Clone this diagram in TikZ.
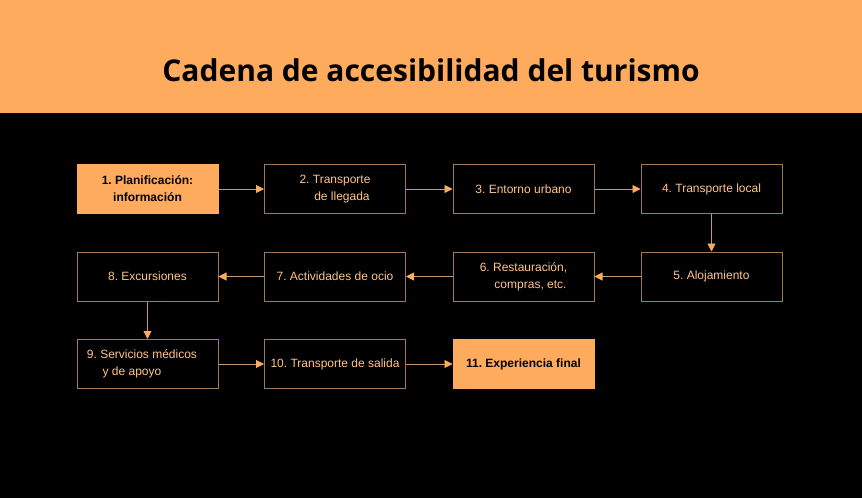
\documentclass[tikz,border=0pt]{standalone}
\usepackage{fontspec}
\setmainfont{Liberation Sans}
\newfontfamily\titlefont{Open Sans}
\usetikzlibrary{arrows.meta}
\frenchspacing
\definecolor{accent}{HTML}{FFAB5E}
\definecolor{boxline}{HTML}{9A7A58}
\definecolor{boxtext}{HTML}{FFC58A}
\definecolor{linkline}{HTML}{C49A74}
\tikzset{
  plainbox/.style={draw=boxline, line width=1pt, fill=black, minimum width=141pt, minimum height=49pt, inner sep=0pt, align=center, text=boxtext, font=\fontsize{12}{17}\selectfont},
  hotbox/.style={plainbox, fill=accent, draw=accent, text=black, font=\fontsize{12}{17}\selectfont\bfseries},
  link/.style={draw=linkline, line width=0.9pt, -{Triangle[length=8pt,width=8pt,fill=accent,color=accent]}},
}
\begin{document}
\begin{tikzpicture}[x=1pt,y=-1pt]
\fill[black] (0,0) rectangle (862,498);
\useasboundingbox (0,0) rectangle (862,498);
\fill[accent] (0,0) rectangle (862,113);
\node[font=\titlefont\fontsize{30}{34}\selectfont\bfseries, text=black] (title) at (431,70) {Cadena de accesibilidad del turismo};

\node[hotbox] (n1) at (147.5,189) {1. Planificación:\\información};
\node[plainbox] (n2) at (335,189) {2. Transporte\\\hspace*{14pt}de llegada};
\node[plainbox] (n3) at (523.5,189) {3. Entorno urbano};
\node[plainbox] (n4) at (711.5,189) {4. Transporte local};
\node[plainbox] (n5) at (711.5,276.5) {5. Alojamiento};
\node[plainbox] (n6) at (523.5,276.5) {6. Restauración,\\\hspace*{14pt}compras, etc.};
\node[plainbox] (n7) at (335,276.5) {7. Actividades de ocio};
\node[plainbox] (n8) at (147.5,276.5) {8. Excursiones};
\node[plainbox] (n9) at (147.5,364) {9. Servicios médicos\hspace*{11pt}\\y de apoyo\hspace*{31pt}};
\node[plainbox] (n10) at (335,364) {10. Transporte de salida};
\node[hotbox] (n11) at (523.5,364) {11. Experiencia final};

\draw[link] (n1) -- (n2);
\draw[link] (n2) -- (n3);
\draw[link] (n3) -- (n4);
\draw[link] (n4) -- (n5);
\draw[link] (n5) -- (n6);
\draw[link] (n6) -- (n7);
\draw[link] (n7) -- (n8);
\draw[link] (n8) -- (n9);
\draw[link] (n9) -- (n10);
\draw[link] (n10) -- (n11);
\end{tikzpicture}
\end{document}
